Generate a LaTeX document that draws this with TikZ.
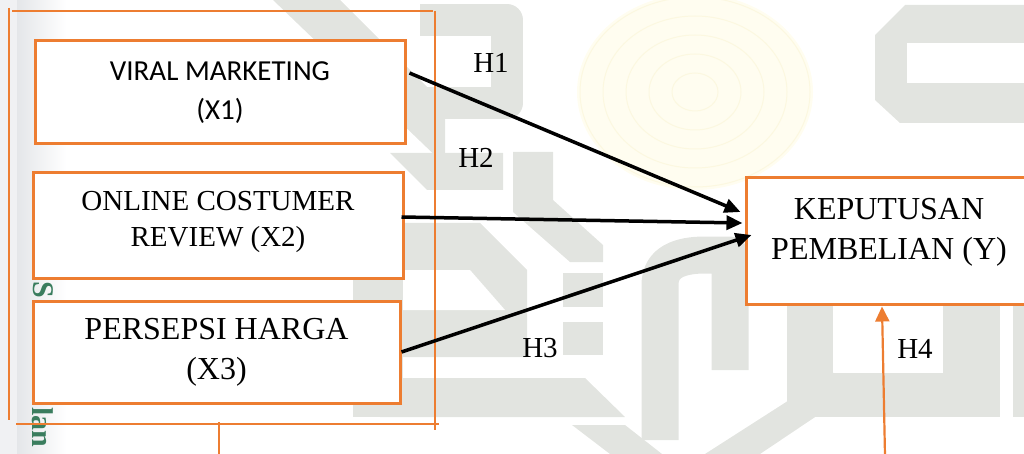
\documentclass[tikz,border=0pt]{standalone}
\usepackage{fontspec}
\setmainfont{Liberation Serif}
\newfontfamily\calibrifont{Carlito}
\newfontfamily\wmfont{Liberation Serif}
\usetikzlibrary{arrows.meta}

\definecolor{boxorange}{HTML}{ED7D31}
\definecolor{wmgray}{HTML}{E2E4E0}
\definecolor{wmyellow}{HTML}{FFFDF0}
\definecolor{wmring}{HTML}{FCF8E0}
\definecolor{wmgreen}{HTML}{3A7D5E}
\definecolor{stripgray}{HTML}{E4E6E9}
\definecolor{edgegray}{HTML}{F0F1F3}

\tikzset{
  varbox/.style={draw=boxorange, line width=3pt, fill=white, inner sep=0pt,
    align=center, font=\fontsize{29}{39}\selectfont},
  bigtext/.style={font=\fontsize{32}{40}\selectfont},
  boxtext/.style={inner sep=0pt, align=center},
  hyp/.style={inner sep=0pt, font=\fontsize{29}{34}\selectfont},
  effect/.style={line width=3.5pt, -{Triangle[length=16pt,width=14pt]}},
  frameline/.style={draw=boxorange, line width=2.6pt},
  wm/.style={fill=wmgray, draw=none},
  wmtext/.style={inner sep=0pt, rotate=-90, text=wmgreen,
    font=\wmfont\bfseries\fontsize{30}{30}\selectfont}
}

\begin{document}
\begin{tikzpicture}[x=1pt, y=-1pt]
\useasboundingbox (0,0) rectangle (1024,454);

% ---- faint background emblem ----
\begin{scope}
  \clip (0,0) rectangle (1024,454);
  % margin strip
  \fill[edgegray] (0,0) rectangle (17,454);
  \shade[left color=stripgray, right color=white] (17,0) rectangle (66,454);
  % round ornament
  \fill[wmyellow] (695,92) ellipse [x radius=118, y radius=98];
  \foreach \r in {20,40,60,80,100}
    \draw[wmring, line width=1pt] (695,92) ellipse [x radius=\r*1.15, y radius=\r*0.95];
  % diagonal band and hook
  \fill[wm] (273,0) -- (340,0) -- (445,105) -- (445,165) -- cycle;
  \draw[wmgray, line width=32pt, line join=round] (420,20) -- (507,20) -- (507,103) -- (390,103);
  \fill[wm] (390,153) -- (503,153) -- (503,190) -- (427,190) -- cycle;
  % stepped column
  \fill[wm] (513,152) -- (553,152) -- (553,200) -- (603,245) -- (603,262) -- (570,262) -- (513,212) -- cycle;
  \fill[wm] (563,273) rectangle (603,307);
  \fill[wm] (563,322) rectangle (603,355);
  % lower S
  \fill[wm] (403,223) -- (480,223) -- (527,270) -- (527,357) -- (403,357) -- cycle;
  \fill[white] (403,270) -- (470,270) -- (505,310) -- (403,310) -- cycle;
  \fill[wm] (353,277) rectangle (403,417);
  \fill[wm] (380,378) -- (585,378) -- (625,417) -- (380,417) -- cycle;
  \fill[wm] (572,425) -- (625,425) -- (662,454) -- (610,454) -- cycle;
  % arch
  \draw[wmgray, line width=37pt, line join=round]
    (660,440) -- (660,285) .. controls (660,262) and (680,255) .. (705,255) -- (730,255) -- (730,370);
  % blocks below the outcome box
  \fill[wm] (787,303) rectangle (833,377);
  \fill[wm] (787,373) rectangle (1000,417);
  \fill[wm] (943,303) rectangle (1000,417);
  \fill[wm] (1013,303) rectangle (1024,417);
  \fill[wm] (705,454) -- (760,454) -- (833,405) -- (833,372) -- cycle;
  % C shape at the top right
  \fill[wm] (905,5) -- (1024,5) -- (1024,123) -- (900,123) -- (875,100) -- (875,35) -- cycle;
  \fill[white] (907,43) rectangle (1024,83);
  % margin lettering
  \node[wmtext, anchor=west] (wmS) at (43,281) {S};
  \node[wmtext, anchor=west] (wmL) at (43,407) {lan};
\end{scope}

% ---- grouping bracket around the independent variables ----
\coordinate (fTL) at (12,11);
\coordinate (fTR) at (433,11);
\coordinate (fR1) at (435,11);
\coordinate (fR2) at (435,430);
\coordinate (fB1) at (16,424);
\coordinate (fB2) at (439,424);
\coordinate (fL1) at (9,8);
\coordinate (fL2) at (9,420);
\coordinate (fT1) at (219,422);
\coordinate (fT2) at (219,456);
\draw[frameline] (fTL) -- (fTR);
\draw[frameline] (fR1) -- (fR2);
\draw[frameline] (fB1) -- (fB2);
\draw[frameline] (fL1) -- (fL2);
\draw[frameline] (fT1) -- (fT2);

% ---- variables ----
\node[varbox, minimum width=370pt, minimum height=103pt] (x1) at (220,92.5)
  {\calibrifont VIRAL MARKETING\\\calibrifont (X1)};
\node[varbox, minimum width=370pt, minimum height=105pt] (x2) at (218,225.5) {};
\node[boxtext, font=\fontsize{29}{36.5}\selectfont] (x2text) at (218,222)
  {ONLINE COSTUMER\\REVIEW (X2)};
\node[varbox, bigtext, minimum width=367pt, minimum height=102pt] (x3) at (216.5,352)
  {PERSEPSI HARGA\\(X3)};
\node[varbox, minimum width=286pt, minimum height=126pt] (y) at (889,241) {};
\node[boxtext, bigtext] (ytext) at (889,232)
  {KEPUTUSAN\\PEMBELIAN (Y)};

% ---- hypothesised effects ----
\draw[effect] ([xshift=3pt,yshift=19.5pt]x1.east) -- ([xshift=-4pt,yshift=29pt]y.west);
\draw[effect] ([xshift=-3pt,yshift=8.5pt]x2.east) -- ([xshift=-2pt,yshift=18pt]y.west);
\draw[effect] (x3.east) -- ([xshift=7pt,yshift=6pt]y.west);

\coordinate (h4start) at (885,456);
\draw[draw=boxorange, line width=2.2pt, -{Triangle[length=15pt,width=14pt]}]
  (h4start) -- ([xshift=-7pt,yshift=-1pt]y.south);

\node[hyp] (h1) at (491,63) {H1};
\node[hyp] (h2) at (476,158) {H2};
\node[hyp] (h3) at (540,348) {H3};
\node[hyp] (h4) at (915,349) {H4};
\end{tikzpicture}
\end{document}
